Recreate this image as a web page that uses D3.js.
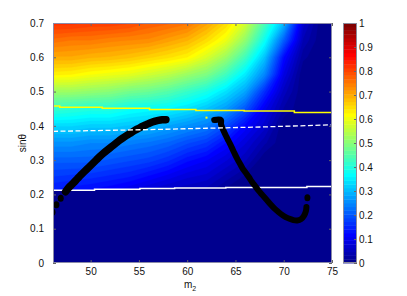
<!DOCTYPE html>
<html>
<head>
<meta charset="utf-8">
<script src="https://cdn.jsdelivr.net/npm/d3@7"></script>
<style>
  body { margin: 0; background: #fff; }
  svg text { font-family: "Liberation Sans", Arial, Helvetica, sans-serif; font-size: 10px; fill: #111; }
</style>
</head>
<body>
<div id="chart"></div>
<script>
// heat map samples (rows from sinθ = 0.70 down to 0.20)
const gridM2 = [46, 48, 50, 52, 54, 56, 58, 60, 62, 64, 66, 68, 70, 72, 74, 76];
const gridSin = [0.70, 0.65, 0.60, 0.55, 0.50, 0.45, 0.40, 0.35, 0.30, 0.25, 0.20];
const heat = [
    [0.82, 0.82, 0.81, 0.81, 0.80, 0.78, 0.77, 0.755, 0.71, 0.655, 0.575, 0.44, 0.30, 0.07, 0, 0],
    [0.76, 0.75, 0.75, 0.74, 0.735, 0.73, 0.71, 0.69, 0.65, 0.60, 0.51, 0.38, 0.21, 0.045, 0, 0],
    [0.70, 0.70, 0.69, 0.685, 0.675, 0.66, 0.645, 0.625, 0.58, 0.52, 0.43, 0.31, 0.125, 0.02, 0, 0],
    [0.63, 0.625, 0.61, 0.60, 0.59, 0.57, 0.55, 0.52, 0.49, 0.43, 0.35, 0.25, 0.09, 0, 0, 0],
    [0.52, 0.52, 0.51, 0.50, 0.48, 0.47, 0.45, 0.42, 0.39, 0.34, 0.28, 0.16, 0.055, 0, 0, 0],
    [0.42, 0.41, 0.40, 0.40, 0.38, 0.37, 0.36, 0.34, 0.31, 0.27, 0.20, 0.10, 0.03, 0, 0, 0],
    [0.33, 0.33, 0.32, 0.32, 0.31, 0.30, 0.28, 0.26, 0.24, 0.19, 0.12, 0.07, 0, 0, 0, 0],
    [0.26, 0.26, 0.25, 0.25, 0.24, 0.23, 0.215, 0.19, 0.17, 0.125, 0.08, 0.035, 0, 0, 0, 0],
    [0.21, 0.21, 0.21, 0.20, 0.19, 0.18, 0.16, 0.13, 0.11, 0.08, 0.05, 0, 0, 0, 0, 0],
    [0.17, 0.165, 0.16, 0.15, 0.14, 0.12, 0.10, 0.08, 0.07, 0.04, 0.01, 0, 0, 0, 0, 0],
    [0.13, 0.12, 0.11, 0.10, 0.08, 0.06, 0.045, 0.04, 0.03, 0, 0, 0, 0, 0, 0, 0]
];

// lines (stepped as in the picture)
const yellowM2 = [46.1, 46.8, 51.2, 56.1, 60.9, 65.9, 71.1, 75];
const yellowSin = [0.458, 0.454, 0.451, 0.448, 0.445, 0.443, 0.439, 0.439];
const whiteM2 = [46.1, 50.4, 55.1, 58.7, 64.0, 72.4, 75];
const whiteSin = [0.2125, 0.215, 0.217, 0.219, 0.2205, 0.223, 0.223];
const dashM2 = [46.1, 56, 62, 68, 75];
const dashSin = [0.384, 0.389, 0.393, 0.397, 0.403];

// black scatter: loose dots and the two dense branches
const looseM2 = [46.05, 46.45, 46.9, 72.45];
const looseSin = [0.148, 0.17, 0.189, 0.19];
const leftM2 = [47.4, 47.8, 48.2, 48.6, 49.0, 49.4, 49.8, 50.2, 50.6, 51.0, 51.4, 51.8,
    52.2, 52.6, 53.0, 53.4, 53.8, 54.2, 54.6, 55.0, 55.4, 55.8, 56.2, 56.6, 57.0, 57.4, 57.8];
const leftSin = [0.208, 0.222, 0.233, 0.245, 0.257, 0.268, 0.279, 0.29, 0.301, 0.312, 0.322, 0.331,
    0.34, 0.349, 0.358, 0.366, 0.373, 0.38, 0.387, 0.393, 0.399, 0.404, 0.409, 0.413, 0.416, 0.418, 0.418];
const rightM2 = [62.8, 63.5, 63.5, 63.7, 64.0, 64.3, 64.6, 64.9, 65.2, 65.5, 65.8, 66.1, 66.4, 66.7, 67.0,
    67.4, 67.8, 68.2, 68.6, 69.0, 69.4, 69.8, 70.2, 70.6, 71.0, 71.4, 71.8, 72.1, 72.3, 72.35];
const rightSin = [0.417, 0.417, 0.405, 0.39, 0.372, 0.355, 0.338, 0.32, 0.303, 0.288, 0.273, 0.262, 0.25, 0.237, 0.226,
    0.211, 0.198, 0.185, 0.172, 0.16, 0.15, 0.141, 0.134, 0.129, 0.125, 0.124, 0.128, 0.138, 0.152, 0.163];
const yellowDot = [62.0, 0.424];

const xTicks = [50, 55, 60, 65, 70, 75];
const yTicks = [0, 0.1, 0.2, 0.3, 0.4, 0.5, 0.6, 0.7];
const cTicks = [0, 0.1, 0.2, 0.3, 0.4, 0.5, 0.6, 0.7, 0.8, 0.9, 1];

const W = 407, H = 296;
const plot = {left: 53, right: 332, top: 23, bottom: 263};
const cbar = {left: 343, right: 357};

// matlab jet(64)
function jet64(k) {
    const i = k + 1;
    const r = i < 25 ? 0 : i <= 40 ? (i - 24) / 16 : i <= 56 ? 1 : (72 - i) / 16;
    const g = i < 9 ? 0 : i <= 24 ? (i - 8) / 16 : i <= 39 ? 1 : i <= 55 ? (56 - i) / 16 : 0;
    const b = i <= 8 ? (i + 8) / 16 : i <= 23 ? 1 : i <= 39 ? (40 - i) / 16 : 0;
    return d3.rgb(r * 255, g * 255, b * 255).toString();
}

const x = d3.scaleLinear().domain([46.1, 75]).range([plot.left, plot.right]);
const y = d3.scaleLinear().domain([0, 0.7]).range([plot.bottom, plot.top]);
const yc = d3.scaleLinear().domain([0, 1]).range([plot.bottom, plot.top]);

const svg = d3.select('#chart').append('svg')
    .attr('width', W)
    .attr('height', H);

const defs = svg.append('defs');
defs.append('clipPath').attr('id', 'plotClip')
    .append('rect')
    .attr('x', plot.left).attr('y', plot.top)
    .attr('width', plot.right - plot.left).attr('height', plot.bottom - plot.top);

const whiteData = whiteM2.map((m, i) => [m, whiteSin[i]]);
const upperArea = d3.area()
    .curve(d3.curveStepAfter)
    .x(d => x(d[0]))
    .y0(y(0.7))
    .y1(d => y(d[1]));
defs.append('clipPath').attr('id', 'heatClip')
    .append('path')
    .attr('d', upperArea(whiteData));

// background = lowest colour
svg.append('rect')
    .attr('x', plot.left).attr('y', plot.top)
    .attr('width', plot.right - plot.left).attr('height', plot.bottom - plot.top)
    .attr('fill', jet64(0));

// heat map as filled contours
const nx = gridM2.length, ny = gridSin.length;
const dM = gridM2[1] - gridM2[0], dS = gridSin[0] - gridSin[1];
const values = heat.flat();
const thresholds = d3.range(1, 64).map(k => k / 64);
const contours = d3.contours().size([nx, ny]).thresholds(thresholds)(values);
const proj = d3.geoTransform({
    point: function (gx, gy) {
        this.stream.point(x(gridM2[0] + (gx - 0.5) * dM), y(gridSin[0] - (gy - 0.5) * dS));
    }
});
const geo = d3.geoPath(proj);

svg.append('g')
    .attr('clip-path', 'url(#plotClip)')
    .append('g')
    .attr('clip-path', 'url(#heatClip)')
    .selectAll('path')
    .data(contours)
    .enter()
    .append('path')
    .attr('d', geo)
    .attr('fill', d => jet64(Math.round(d.value * 64)))
    .attr('stroke', d => jet64(Math.round(d.value * 64)))
    .attr('stroke-width', 0.3);

const lineGen = d3.line().x(d => x(d[0])).y(d => y(d[1]));
const lines = svg.append('g').attr('clip-path', 'url(#plotClip)');

lines.append('path')
    .attr('d', lineGen.curve(d3.curveStepAfter)(whiteData))
    .attr('fill', 'none')
    .attr('stroke', '#fff')
    .attr('stroke-width', 1.5);

lines.append('path')
    .attr('d', lineGen.curve(d3.curveStepAfter)(yellowM2.map((m, i) => [m, yellowSin[i]])))
    .attr('fill', 'none')
    .attr('stroke', '#ffff00')
    .attr('stroke-width', 1.5);

// scatter: dense branches drawn as a thick run of markers
const branches = [
    {pts: leftM2.map((m, i) => [m, leftSin[i]]), w: 7.5},
    {pts: rightM2.map((m, i) => [m, rightSin[i]]), w: 6}
];
branches.forEach(b => {
    lines.append('path')
        .attr('d', lineGen.curve(d3.curveCatmullRom)(b.pts))
        .attr('fill', 'none')
        .attr('stroke', '#000')
        .attr('stroke-width', b.w)
        .attr('stroke-linecap', 'round')
        .attr('stroke-linejoin', 'round');
});
lines.selectAll('.dot')
    .data(looseM2.map((m, i) => [m, looseSin[i]]))
    .enter()
    .append('ellipse')
    .attr('class', 'dot')
    .attr('cx', d => x(d[0]))
    .attr('cy', d => y(d[1]))
    .attr('rx', 3)
    .attr('ry', 3.5)
    .attr('fill', '#000');

lines.append('rect')
    .attr('x', x(yellowDot[0]) - 1)
    .attr('y', y(yellowDot[1]) - 1)
    .attr('width', 2)
    .attr('height', 2)
    .attr('fill', '#ffff00');

lines.append('path')
    .attr('d', lineGen.curve(d3.curveLinear)(dashM2.map((m, i) => [m, dashSin[i]])))
    .attr('fill', 'none')
    .attr('stroke', '#fff')
    .attr('stroke-width', 1.3)
    .attr('stroke-dasharray', '5,2.5');

///////////////////////////////////////////////////////////////////////////
// axes, ticks inside like matlab
function styleAxis(g) {
    g.selectAll('.domain').remove();
    g.selectAll('.tick line').attr('stroke', '#666');
    g.selectAll('.tick text').attr('fill', '#111').style('font-size', '10px');
}

svg.append('g')
    .attr('transform', `translate(0,${plot.bottom})`)
    .call(d3.axisBottom(x).tickValues(xTicks).tickSize(-3).tickPadding(4.5).tickFormat(d3.format('d')))
    .call(styleAxis);
svg.append('g')
    .attr('transform', `translate(0,${plot.top})`)
    .call(d3.axisTop(x).tickValues(xTicks).tickSize(-3).tickFormat(''))
    .call(styleAxis);
svg.append('g')
    .attr('transform', `translate(${plot.left},0)`)
    .call(d3.axisLeft(y).tickValues(yTicks).tickSize(-3).tickPadding(9).tickFormat(d => d === 0 ? '0' : d3.format('.1f')(d)))
    .call(styleAxis);
svg.append('g')
    .attr('transform', `translate(${plot.right},0)`)
    .call(d3.axisRight(y).tickValues(yTicks).tickSize(-3).tickFormat(''))
    .call(styleAxis);

svg.append('rect')
    .attr('x', plot.left + 0.5).attr('y', plot.top + 0.5)
    .attr('width', plot.right - plot.left - 1).attr('height', plot.bottom - plot.top - 1)
    .attr('fill', 'none')
    .attr('stroke', '#8a8aa8')
    .attr('stroke-width', 1);

svg.append('text')
    .attr('transform', `translate(26,${(plot.top + plot.bottom) / 2}) rotate(-90)`)
    .attr('text-anchor', 'middle')
    .text('sinθ');

const xl = svg.append('text')
    .attr('x', 190)
    .attr('y', 288)
    .attr('text-anchor', 'middle')
    .text('m');
xl.append('tspan')
    .attr('dy', 3)
    .style('font-size', '7px')
    .text('2');

// colorbar
const cb = svg.append('g');
cb.selectAll('rect')
    .data(d3.range(64))
    .enter()
    .append('rect')
    .attr('x', cbar.left)
    .attr('y', k => yc((k + 1) / 64))
    .attr('width', cbar.right - cbar.left)
    .attr('height', k => yc(k / 64) - yc((k + 1) / 64) + 0.4)
    .attr('fill', k => jet64(k));

svg.append('g')
    .attr('transform', `translate(${cbar.right},0)`)
    .call(d3.axisRight(yc).tickValues(cTicks).tickSize(-3).tickPadding(2).tickFormat(d => d === 0 || d === 1 ? d3.format('d')(d) : d3.format('.1f')(d)))
    .call(styleAxis);

svg.append('rect')
    .attr('x', cbar.left + 0.5).attr('y', plot.top + 0.5)
    .attr('width', cbar.right - cbar.left - 1).attr('height', plot.bottom - plot.top - 1)
    .attr('fill', 'none')
    .attr('stroke', '#8a8a9a')
    .attr('stroke-width', 1);
</script>
</body>
</html>
